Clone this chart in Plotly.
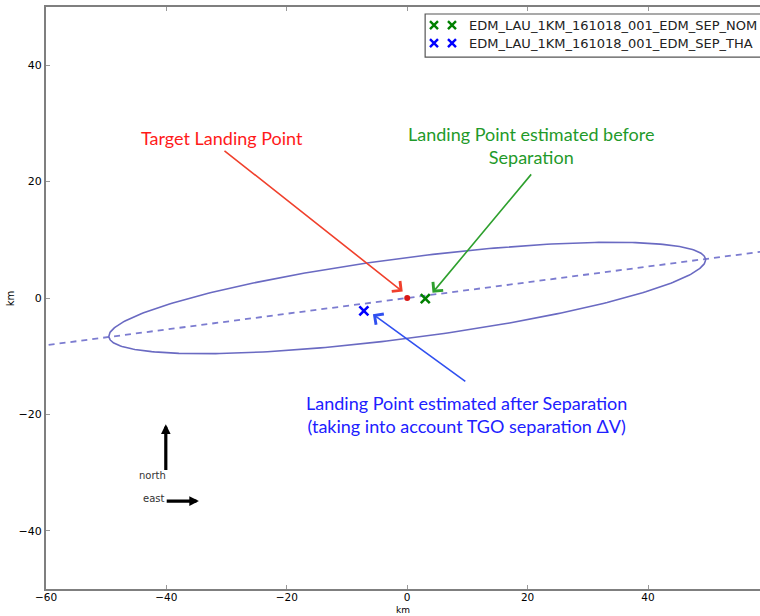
import numpy as np
import plotly.graph_objects as go

# ---- data ----
target_pt = [0.0, 0.0]                 # target landing point (km east, km north)
sep_nom_pt = [3.0, -0.1]               # EDM_LAU_1KM_161018_001_EDM_SEP_NOM
sep_tha_pt = [-7.2, -2.2]              # EDM_LAU_1KM_161018_001_EDM_SEP_THA
series_names = ["EDM_LAU_1KM_161018_001_EDM_SEP_NOM", "EDM_LAU_1KM_161018_001_EDM_SEP_THA"]
series_colors = ["#008000", "#0000ff"]

ellipse_center = [0.0, 0.0]
ellipse_semi_major = 50.0
ellipse_semi_minor = 6.9
ellipse_angle_deg = 7.7

x_ticks = [-60, -40, -20, 0, 20, 40]
y_ticks = [-40, -20, 0, 20, 40]
x_range = [-60, 58.6]
y_range = [-50, 50]

# ---- derived geometry ----
th = np.radians(ellipse_angle_deg)
t = np.linspace(0, 2 * np.pi, 361)
ex = ellipse_center[0] + ellipse_semi_major * np.cos(t) * np.cos(th) - ellipse_semi_minor * np.sin(t) * np.sin(th)
ey = ellipse_center[1] + ellipse_semi_major * np.cos(t) * np.sin(th) + ellipse_semi_minor * np.sin(t) * np.cos(th)
lx = np.array([x_range[0] - 5, x_range[1] + 5])
ly = ellipse_center[1] + (lx - ellipse_center[0]) * np.tan(th)

PLOT_H = 616 - 7 - 27

fig = go.Figure()
fig.add_trace(go.Scatter(x=lx, y=ly, mode="lines",
                         line=dict(color="#7c7cd0", width=1.8, dash="6px,5px"),
                         hoverinfo="skip", showlegend=False))
fig.add_trace(go.Scatter(x=ex, y=ey, mode="lines",
                         line=dict(color="#6a6ac2", width=1.6),
                         hoverinfo="skip", showlegend=False))
fig.add_trace(go.Scatter(x=[target_pt[0]], y=[target_pt[1]], mode="markers",
                         marker=dict(color="#d81818", size=6), showlegend=False))
fig.add_trace(go.Scatter(x=[sep_nom_pt[0]], y=[sep_nom_pt[1]], mode="markers",
                         name=series_names[0],
                         marker=dict(symbol="x-thin", color=series_colors[0], size=9,
                                     line=dict(width=2.6, color=series_colors[0])),
                         showlegend=False))
fig.add_trace(go.Scatter(x=[sep_tha_pt[0]], y=[sep_tha_pt[1]], mode="markers",
                         name=series_names[1],
                         marker=dict(symbol="x-thin", color=series_colors[1], size=9,
                                     line=dict(width=2.6, color=series_colors[1])),
                         showlegend=False))

# legend markers (manual legend, matplotlib style with two markers)
leg_rows_y = [0.969, 0.938]
for name, col, yy in zip(series_names, series_colors, leg_rows_y):
    fig.add_trace(go.Scatter(x=[0.5434, 0.5686], y=[yy, yy], mode="markers",
                             xaxis="x2", yaxis="y2",
                             marker=dict(symbol="x-thin", color=col, size=8,
                                         line=dict(width=2.4, color=col)),
                             hoverinfo="skip", showlegend=False))

ann = []
# pointing arrows
arrows = [
    dict(x=-0.75, y=1.1, ax=-30.6, ay=25.5, color="#f0402c"),
    dict(x=4.2, y=0.9, ax=20.8, ay=21.5, color="#2ea02e"),
    dict(x=-5.7, y=-2.8, ax=9.9, ay=-14.5, color="#3050f0"),
]
for a in arrows:
    ann.append(dict(x=a["x"], y=a["y"], ax=a["ax"], ay=a["ay"], xref="x", yref="y",
                    axref="x", ayref="y", text="", showarrow=True, arrowhead=4,
                    arrowsize=1.6, arrowwidth=1.6, arrowcolor=a["color"], standoff=0))
# texts
ann.append(dict(x=-30.8, y=27.5, xref="x", yref="y", text="Target Landing Point",
                showarrow=False, font=dict(family="Lato", size=18, color="#ff1a1a")))
ann.append(dict(x=20.7, y=26.2, xref="x", yref="y",
                text="Landing Point estimated before<br>Separation",
                showarrow=False, font=dict(family="Lato", size=18, color="#1f9a2a")))
ann.append(dict(x=9.9, y=-20.0, xref="x", yref="y",
                text="Landing Point estimated after Separation<br>(taking into account TGO separation ΔV)",
                showarrow=False, font=dict(family="Lato", size=18, color="#2020ff")))
# compass arrows
ann.append(dict(x=-40.1, y=-21.7, ax=-40.1, ay=-29.8, xref="x", yref="y", axref="x", ayref="y",
                text="", showarrow=True, arrowhead=2, arrowsize=0.6, arrowwidth=3.2,
                arrowcolor="black", standoff=0))
ann.append(dict(x=-34.6, y=-34.9, ax=-40.2, ay=-34.9, xref="x", yref="y", axref="x", ayref="y",
                text="", showarrow=True, arrowhead=2, arrowsize=0.6, arrowwidth=3.2,
                arrowcolor="black", standoff=0))
ann.append(dict(x=-39.8, y=-30.5, xref="x", yref="y", text="north", xanchor="right", yanchor="middle",
                showarrow=False, font=dict(family="DejaVu Sans", size=10, color="#333333")))
ann.append(dict(x=-40.1, y=-34.4, xref="x", yref="y", text="east", xanchor="right", yanchor="middle",
                showarrow=False, font=dict(family="DejaVu Sans", size=10, color="#333333")))
# legend texts
for name, yy in zip(series_names, leg_rows_y):
    ann.append(dict(x=0.5896, y=yy, xref="paper", yref="paper", text=name,
                    xanchor="left", yanchor="middle",
                    showarrow=False, font=dict(family="DejaVu Sans", size=13, color="#222222")))
# axis titles
ann.append(dict(x=0.5, y=-26.5 / PLOT_H, xref="paper", yref="paper", text="km", xanchor="center", yanchor="bottom",
                showarrow=False, borderpad=0, font=dict(family="DejaVu Sans", size=9, color="black")))
ann.append(dict(x=-0.05, y=0.5, xref="paper", yref="paper", text="km", textangle=-90,
                xanchor="center", yanchor="middle",
                showarrow=False, font=dict(family="DejaVu Sans", size=10, color="black")))

fig.update_layout(
    width=760, height=616,
    margin=dict(l=46, r=0, t=7, b=27, autoexpand=False),
    plot_bgcolor="white", paper_bgcolor="white",
    annotations=ann,
    shapes=[dict(type="rect", xref="paper", yref="paper", x0=0.531, x1=1.03, y0=0.914, y1=0.988,
                 line=dict(color="#555555", width=1.2), fillcolor="white", layer="below")],
    xaxis=dict(range=x_range, tickvals=x_ticks, ticktext=["\u221260", "\u221240", "\u221220", "0", "20", "40"],
               showgrid=False, zeroline=False, showline=True, linecolor="#7f7f7f", linewidth=2,
               mirror="ticks", ticks="inside", ticklen=4, tickcolor="#999999", automargin=False,
               ticklabelstandoff=-3,
               tickfont=dict(family="DejaVu Sans", size=10.5, color="black")),
    yaxis=dict(range=y_range, tickvals=y_ticks, ticktext=["\u221240", "\u221220", "0", "20", "40"],
               showgrid=False, zeroline=False, showline=True, linecolor="#7f7f7f", linewidth=2,
               ticks="inside", ticklen=4, tickcolor="#999999", automargin=False,
               tickfont=dict(family="DejaVu Sans", size=11, color="black")),
    xaxis2=dict(overlaying="x", range=[0, 1], visible=False, fixedrange=True),
    yaxis2=dict(overlaying="y", range=[0, 1], visible=False, fixedrange=True),
)

fig.write_html("out.html", config={"displayModeBar": False},
               post_script="document.body.style.margin='0';document.body.style.overflow='hidden';")
